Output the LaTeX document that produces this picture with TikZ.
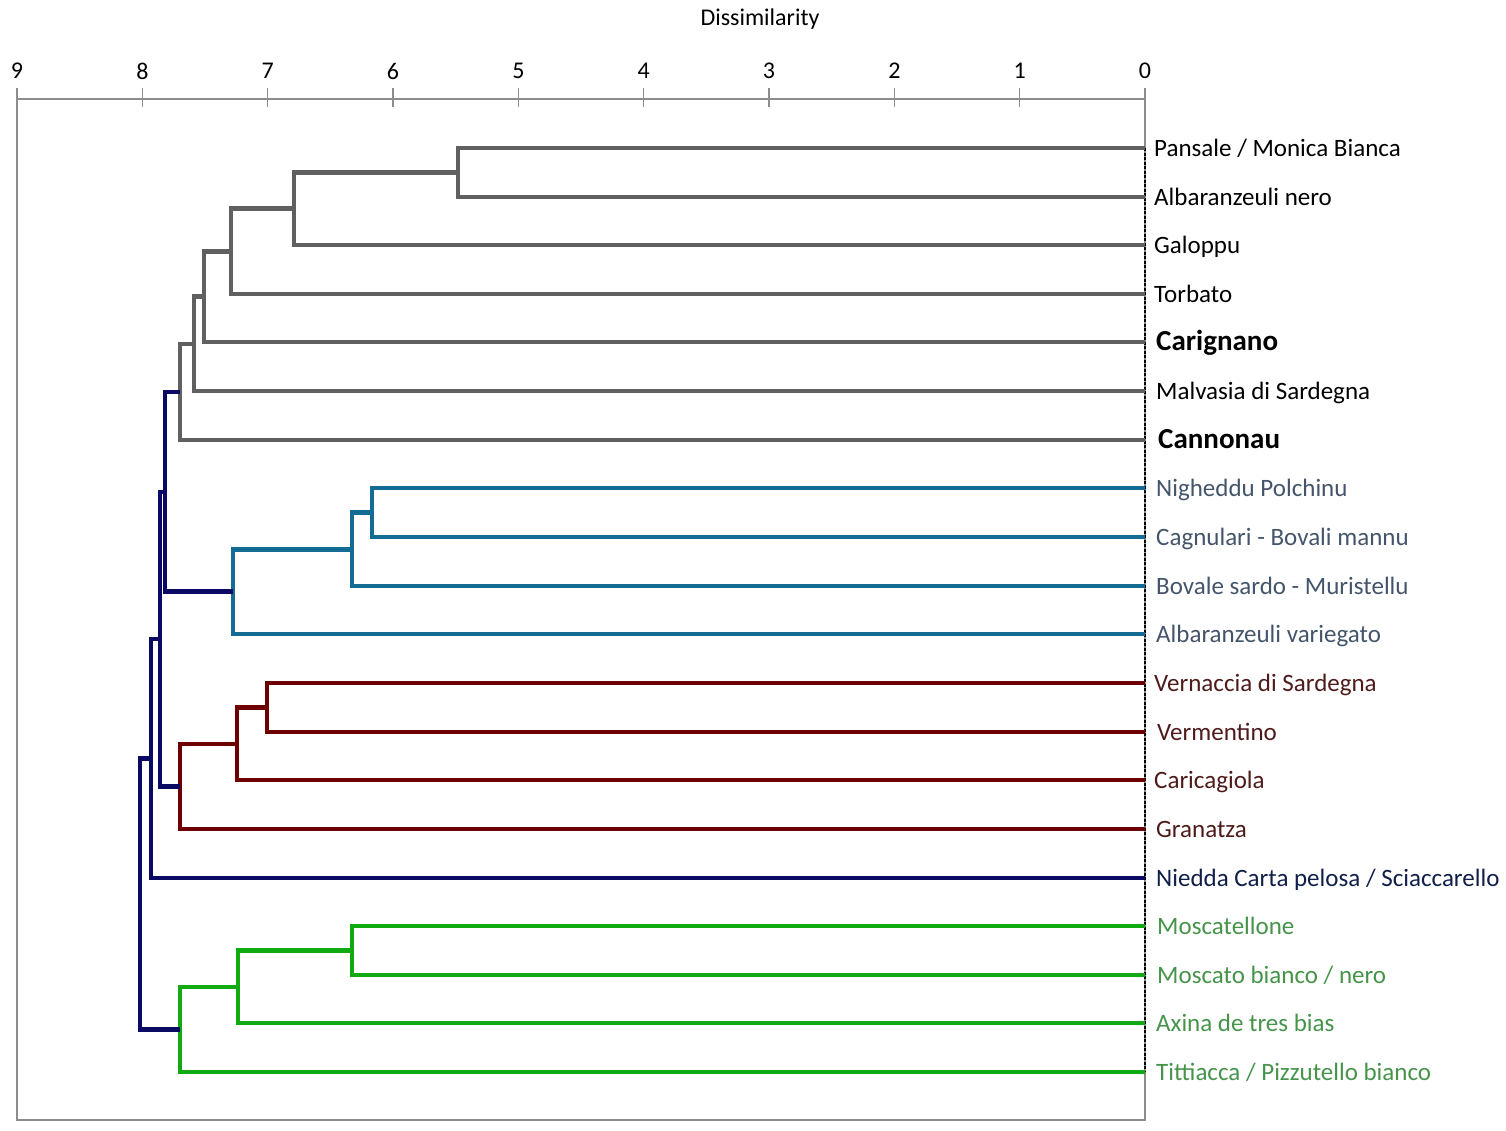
\documentclass[tikz,border=0pt]{standalone}
\usepackage{fontspec}
\setmainfont{Carlito}

\definecolor{grayline}{HTML}{606060}
\definecolor{blueline}{HTML}{146C94}
\definecolor{redline}{HTML}{6E0000}
\definecolor{greenline}{HTML}{12AA12}
\definecolor{navyline}{HTML}{0A0A64}
\definecolor{bluetext}{HTML}{44546A}
\definecolor{redtext}{HTML}{4E1A1A}
\definecolor{navytext}{HTML}{0F1F4A}
\definecolor{greentext}{HTML}{45944A}
\definecolor{axisgray}{HTML}{8C8C8C}

\begin{document}
\begin{tikzpicture}[
  x=1pt, y=-1pt,
  link/.style={line width=4.6pt},
  gray_link/.style={link, draw=grayline},
  blue_link/.style={link, draw=blueline},
  red_link/.style={link, draw=redline},
  green_link/.style={link, draw=greenline},
  navy_link/.style={link, draw=navyline},
  leaf/.style={anchor=west, inner xsep=9pt, inner ysep=0pt, text height=20pt, text depth=4pt, font=\fontsize{25}{30}\selectfont},
  bold_leaf/.style={leaf, inner xsep=11pt, font=\fontsize{29}{34}\selectfont\bfseries},
  tick_label/.style={font=\fontsize{24}{28}\selectfont}
  ]
	\useasboundingbox (0,0) rectangle (1506,1130);

	% axis frame and scale
	\draw[axisgray, line width=2pt] (17,99) rectangle (1145,1120);
	\foreach \v in {0,...,9} {
		\draw[axisgray, line width=1.3pt] ({1145-125.33*\v},88) -- ++(0,19);
		\node[tick_label] (tick\v) at ({1145-125.33*\v},71) {\v};
	}
	\node[tick_label] (title) at (760,19) {Dissimilarity};

	% leaves
	\node[leaf] (pansale) at (1145,148) {Pansale / Monica Bianca};
	\node[leaf] (albnero) at (1145,197) {Albaranzeuli nero};
	\node[leaf] (galoppu) at (1145,245) {Galoppu};
	\node[leaf] (torbato) at (1145,294) {Torbato};
	\node[bold_leaf] (carignano) at (1145,342) {Carignano};
	\node[leaf, inner xsep=11pt] (malvasia) at (1145,391) {Malvasia di Sardegna};
	\node[bold_leaf, inner xsep=13pt] (cannonau) at (1145,440) {Cannonau};

	\node[leaf, text=bluetext, inner xsep=11pt] (nigheddu) at (1145,488) {Nigheddu Polchinu};
	\node[leaf, text=bluetext, inner xsep=11pt] (cagnulari) at (1145,537) {Cagnulari - Bovali mannu};
	\node[leaf, text=bluetext, inner xsep=11pt] (bovale) at (1145,586) {Bovale sardo - Muristellu};
	\node[leaf, text=bluetext, inner xsep=11pt] (albvar) at (1145,634) {Albaranzeuli variegato};

	\node[leaf, text=redtext] (vernaccia) at (1145,683) {Vernaccia di Sardegna};
	\node[leaf, text=redtext, inner xsep=12pt] (vermentino) at (1145,732) {Vermentino};
	\node[leaf, text=redtext] (caricagiola) at (1145,780) {Caricagiola};
	\node[leaf, text=redtext, inner xsep=11pt] (granatza) at (1145,829) {Granatza};

	\node[leaf, text=navytext, inner xsep=11pt] (niedda) at (1145,878) {Niedda Carta pelosa / Sciaccarello};

	\node[leaf, text=greentext, inner xsep=12pt] (moscatellone) at (1145,926) {Moscatellone};
	\node[leaf, text=greentext, inner xsep=12pt] (moscato) at (1145,975) {Moscato bianco / nero};
	\node[leaf, text=greentext, inner xsep=11pt] (axina) at (1145,1023) {Axina de tres bias};
	\node[leaf, text=greentext, inner xsep=11pt] (tittiacca) at (1145,1072) {Tittiacca / Pizzutello bianco};

	\draw[black, line width=1.4pt, dash pattern=on 3pt off 1.5pt] (pansale.west) -- (tittiacca.west);

	% merge points
	\coordinate (g1) at (458,172.5);
	\coordinate (g2) at (294,208.75);
	\coordinate (g3) at (231,251.4);
	\coordinate (g4) at (204,296.7);
	\coordinate (g5) at (194,343.9);
	\coordinate (g6) at (180,391.9);

	\coordinate (b1) at (372,512.5);
	\coordinate (b2) at (352,549.2);
	\coordinate (b3) at (233,591.6);

	\coordinate (r1) at (267,707.5);
	\coordinate (r2) at (237,743.8);
	\coordinate (r3) at (180,786.4);

	\coordinate (e1) at (352,950.5);
	\coordinate (e2) at (238,986.8);
	\coordinate (e3) at (180,1029.4);

	\coordinate (n1) at (165,491.8);
	\coordinate (n2) at (160,639.1);
	\coordinate (n3) at (151,758.6);
	\coordinate (n4) at (140,894.0);

	% grey cluster
	\draw[gray_link] (g1) |- (pansale.west);
	\draw[gray_link] (g1) |- (albnero.west);
	\draw[gray_link] (g2) |- (g1);
	\draw[gray_link] (g2) |- (galoppu.west);
	\draw[gray_link] (g3) |- (g2);
	\draw[gray_link] (g3) |- (torbato.west);
	\draw[gray_link] (g4) |- (g3);
	\draw[gray_link] (g4) |- (carignano.west);
	\draw[gray_link] (g5) |- (g4);
	\draw[gray_link] (g5) |- (malvasia.west);
	\draw[gray_link] (g6) |- (g5);
	\draw[gray_link] (g6) |- (cannonau.west);

	% blue cluster
	\draw[blue_link] (b1) |- (nigheddu.west);
	\draw[blue_link] (b1) |- (cagnulari.west);
	\draw[blue_link] (b2) |- (b1);
	\draw[blue_link] (b2) |- (bovale.west);
	\draw[blue_link] (b3) |- (b2);
	\draw[blue_link] (b3) |- (albvar.west);

	% red cluster
	\draw[red_link] (r1) |- (vernaccia.west);
	\draw[red_link] (r1) |- (vermentino.west);
	\draw[red_link] (r2) |- (r1);
	\draw[red_link] (r2) |- (caricagiola.west);
	\draw[red_link] (r3) |- (r2);
	\draw[red_link] (r3) |- (granatza.west);

	% green cluster
	\draw[green_link] (e1) |- (moscatellone.west);
	\draw[green_link] (e1) |- (moscato.west);
	\draw[green_link] (e2) |- (e1);
	\draw[green_link] (e2) |- (axina.west);
	\draw[green_link] (e3) |- (e2);
	\draw[green_link] (e3) |- (tittiacca.west);

	% joining the clusters
	\draw[navy_link] (n1) |- (g6);
	\draw[navy_link] (n1) |- (b3);
	\draw[navy_link] (n2) |- (n1);
	\draw[navy_link] (n2) |- (r3);
	\draw[navy_link] (n3) |- (n2);
	\draw[navy_link] (n3) |- (niedda.west);
	\draw[navy_link] (n4) |- (n3);
	\draw[navy_link] (n4) |- (e3);
\end{tikzpicture}
\end{document}
